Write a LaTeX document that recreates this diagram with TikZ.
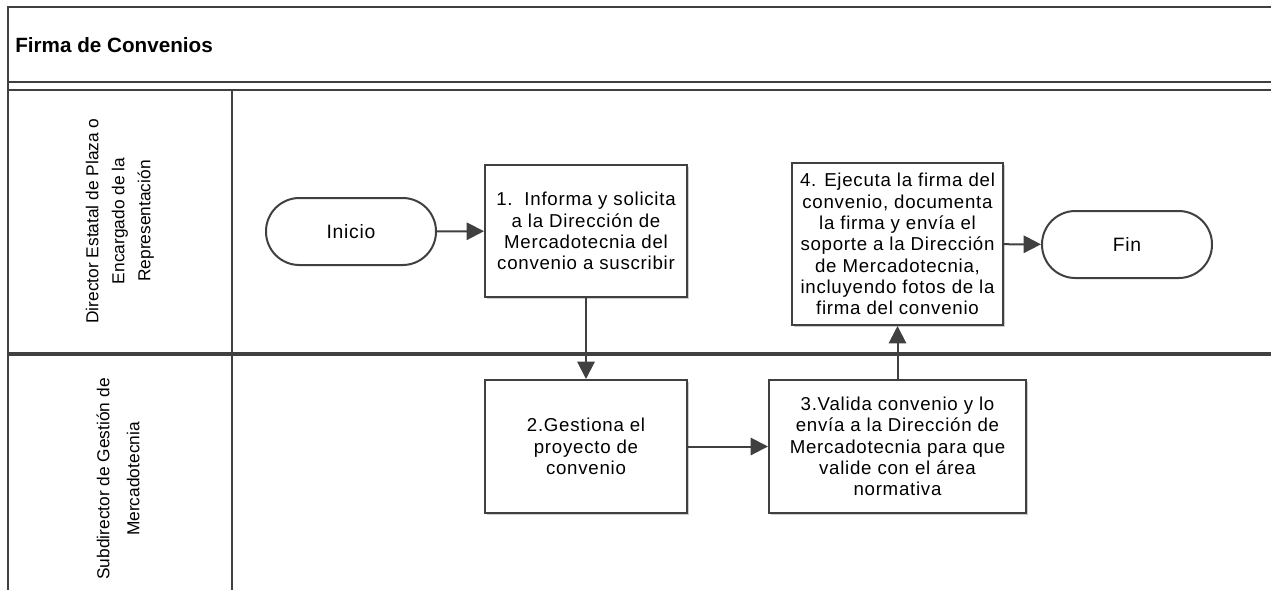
\documentclass[tikz,border=0pt]{standalone}
\usepackage{fontspec}
\setmainfont{Liberation Sans}
\newfontfamily\boxfont[LetterSpace=4]{Liberation Sans}
\usetikzlibrary{arrows.meta,shadows}
\definecolor{ln}{HTML}{404040}
\tikzset{
  frame/.style={draw=ln, line width=1.5pt},
  divider/.style={draw=ln, line width=2.6pt},
  procbox/.style={draw=ln, line width=1.5pt, fill=white, align=center, inner sep=2pt,
    font=\boxfont\fontsize{14}{16}\selectfont,
    drop shadow={shadow xshift=1.5pt, shadow yshift=-1.5pt, opacity=0.2, fill=black}},
  term/.style={draw=ln, line width=1.5pt, fill=white, rounded corners=25pt,
    minimum width=127.5pt, minimum height=50.25pt, font=\boxfont\fontsize{14.5}{17}\selectfont},
  lanelabel/.style={rotate=90, align=center},
  flow/.style={draw=ln, line width=1.5pt, -{Triangle[length=13pt,width=13pt]}},
}
\begin{document}
\begin{tikzpicture}[x=0.75pt, y=-0.75pt]
\useasboundingbox (0,0) rectangle (1271,590);
% frame
\draw[frame] (8,590) -- (8,7) -- (1271,7);
\draw[frame] (8,82) -- (1271,82);
\draw[frame] (8,90) -- (1271,90);
\draw[frame] (232,90) -- (232,590);
\draw[divider] (8,354) -- (1271,354);
% title
\node[anchor=west, inner sep=0pt, font=\bfseries\fontsize{15.5}{18}\selectfont] (title) at (15,45) {Firma de Convenios};
% lane labels
\node[lanelabel, font=\fontsize{13}{19.5}\selectfont] (lane1) at (120,221)
  {Director Estatal de Plaza o\\Encargado de la\\Representación};
\node[lanelabel, font=\fontsize{13}{22.5}\selectfont] (lane2) at (118,479)
  {Subdirector de Gestión de\\Mercadotecnia};
% nodes
\node[term] (ini) at (351,231.5) {Inicio};
\node[procbox, minimum width=151.5pt, minimum height=99pt] (b1) at (586,231)
  {1.\ \ Informa y solicita\\a la Dirección de\\Mercadotecnia del\\convenio a suscribir};
\node[procbox, minimum width=151.5pt, minimum height=99.75pt] (b2) at (586,446.5)
  {2.Gestiona el\\proyecto de\\convenio};
\node[procbox, minimum width=192.75pt, minimum height=99.75pt] (b3) at (897.5,446.5)
  {3.Valida convenio y lo\\envía a la Dirección de\\Mercadotecnia para que\\valide con el área\\normativa};
\node[procbox, minimum width=158.25pt, minimum height=121.5pt] (b4) at (897.5,244)
  {4. Ejecuta la firma del\\convenio, documenta\\la firma y envía el\\soporte a la Dirección\\de Mercadotecnia,\\incluyendo fotos de la\\firma del convenio};
\node[term] (fin) at (1127,244.5) {Fin};
% connectors
\draw[flow] (ini) -- (b1);
\draw[flow] (b1) -- (b2);
\draw[flow] (b2) -- (b3);
\draw[flow] (b3) -- (b4);
\draw[flow] (b4) -- (fin);
\end{tikzpicture}
\end{document}
